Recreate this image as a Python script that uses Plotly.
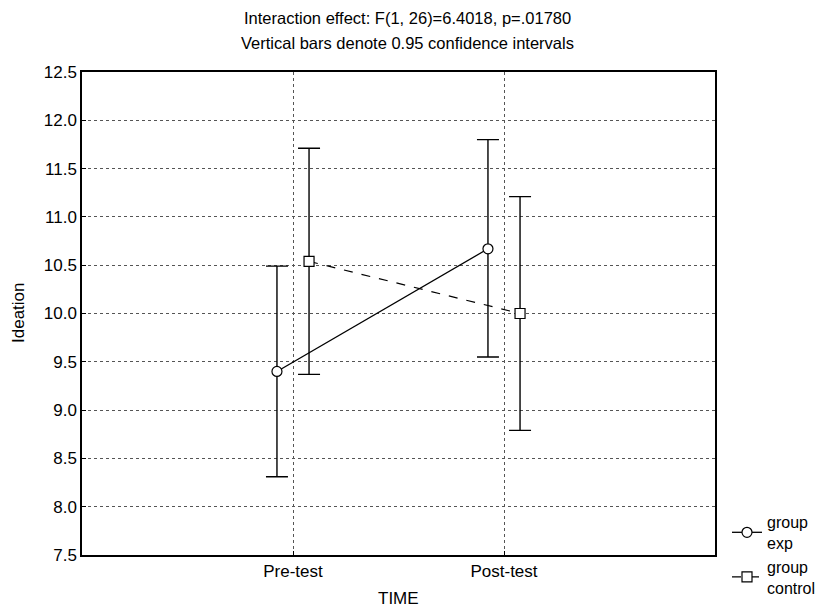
import plotly.graph_objects as go

categories = ["Pre-test", "Post-test"]
cat_pos = [1, 2]
offset = 0.076

exp_mean = [9.40, 10.67]
exp_low = [8.31, 9.55]
exp_high = [10.49, 11.80]

ctl_mean = [10.54, 10.00]
ctl_low = [9.37, 8.79]
ctl_high = [11.71, 11.21]

yticks = [7.5, 8.0, 8.5, 9.0, 9.5, 10.0, 10.5, 11.0, 11.5, 12.0, 12.5]

title_lines = ["Interaction effect: F(1, 26)=6.4018, p=.01780",
               "Vertical bars denote 0.95 confidence intervals"]

FONT = "Liberation Sans, Arial, sans-serif"

def ebar(mean, low, high):
    return dict(type="data", symmetric=False,
                array=[h - m for h, m in zip(high, mean)],
                arrayminus=[m - l for m, l in zip(mean, low)],
                color="black", thickness=1.4, width=11)

fig = go.Figure()
fig.add_trace(go.Scatter(
    x=[p - offset for p in cat_pos], y=exp_mean, mode="lines+markers",
    name="group<br>exp",
    line=dict(color="black", width=1.3, dash="solid"),
    marker=dict(symbol="circle", size=10, color="white", line=dict(color="black", width=1.2)),
    error_y=ebar(exp_mean, exp_low, exp_high)))
fig.add_trace(go.Scatter(
    x=[p + offset for p in cat_pos], y=ctl_mean, mode="lines+markers",
    name="group<br>control",
    line=dict(color="black", width=1.2, dash="dash"),
    marker=dict(symbol="square", size=10, color="white", line=dict(color="black", width=1.2)),
    error_y=ebar(ctl_mean, ctl_low, ctl_high)))

annotations = [
    dict(text=title_lines[0], xref="paper", yref="paper",
         x=(408 - 82) / 633, y=(555 - 18) / 483, xanchor="center", yanchor="middle",
         showarrow=False, font=dict(size=16.5)),
    dict(text=title_lines[1], xref="paper", yref="paper",
         x=(408 - 82) / 633, y=(555 - 43) / 483, xanchor="center", yanchor="middle",
         showarrow=False, font=dict(size=16.5)),
    dict(text="TIME", xref="paper", yref="paper",
         x=0.5, y=(555 - 598) / 483, xanchor="center", yanchor="middle",
         showarrow=False, font=dict(size=17)),
    dict(text="Ideation", xref="paper", yref="paper", textangle=-90,
         x=(18 - 82) / 633, y=(555 - 313) / 483, xanchor="center", yanchor="middle",
         showarrow=False, font=dict(size=17)),
]

fig.update_layout(
    width=816, height=608,
    margin=dict(l=82, r=101, t=72, b=53, autoexpand=False),
    paper_bgcolor="white", plot_bgcolor="white",
    font=dict(family=FONT, size=17, color="black"),
    annotations=annotations,
    showlegend=True,
    legend=dict(x=(727 - 82) / 633, xanchor="left", y=(555 - 505) / 483, yanchor="top",
                bgcolor="rgba(0,0,0,0)", font=dict(size=16),
                itemwidth=30, tracegroupgap=0),
)
fig.update_xaxes(
    range=[0, 3], tickvals=cat_pos, ticktext=categories,
    showgrid=True, gridcolor="#555", griddash="dot", gridwidth=1,
    showline=True, linecolor="black", linewidth=1.5, mirror=True,
    ticks="inside", ticklen=4, tickcolor="black",
    zeroline=False, tickfont=dict(size=17), automargin=False)
fig.update_yaxes(
    range=[7.5, 12.5], tickvals=yticks, ticktext=[f"{v:.1f}" for v in yticks],
    showgrid=True, gridcolor="#555", griddash="dot", gridwidth=1,
    showline=True, linecolor="black", linewidth=1.5, mirror=True,
    ticks="inside", ticklen=4, tickcolor="black",
    zeroline=False, tickfont=dict(size=17), automargin=False)

fig.write_html("out.html")
